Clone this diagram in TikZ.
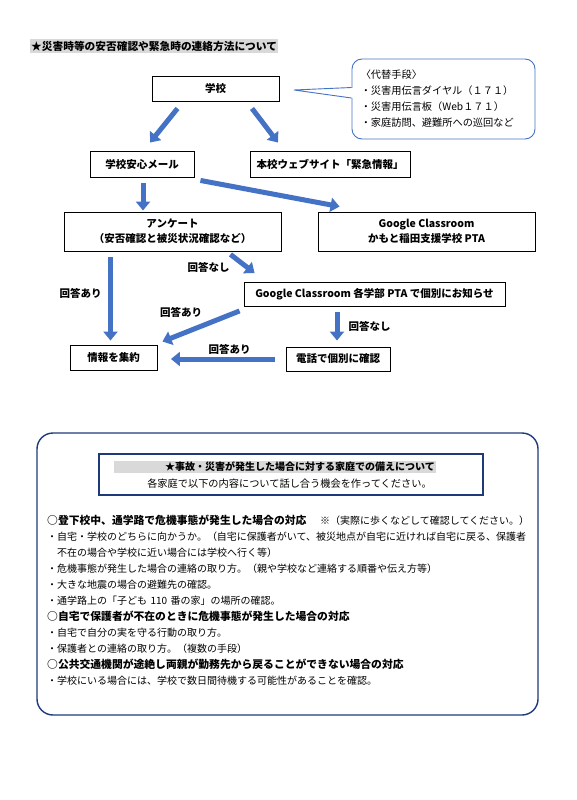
\documentclass[tikz,border=0pt]{standalone}
\usepackage{fontspec}
\setmainfont{Noto Sans CJK JP}
\usetikzlibrary{arrows.meta,positioning,calc}
\definecolor{arrowblue}{HTML}{4472C4}
\definecolor{framenavy}{HTML}{1F3A7A}
\definecolor{markgray}{HTML}{D9D9D9}
\newcommand{\itemhead}[1]{{\fontsize{10.8}{16}\selectfont\bfseries #1}}

\begin{document}
\begin{tikzpicture}[x=1pt,y=-1pt,
  flowbox/.style={draw=black, line width=0.9pt, inner sep=0pt, align=center, font=\fontsize{10.5}{15}\selectfont\bfseries},
  bluearrow/.style={arrowblue, line width=5pt, -{Triangle[width=14pt,length=9pt]}},
  answer/.style={inner sep=0pt, font=\fontsize{10.5}{12}\selectfont\bfseries}]
\useasboundingbox (0,0) rectangle (576,800);

% Title
\node[fill=markgray, anchor=west, inner xsep=1pt, inner ysep=1.5pt, font=\fontsize{10.7}{12}\selectfont\bfseries] (title) at (30,46) {★災害時等の安否確認や緊急時の連絡方法について};

% Flow boxes
\node[flowbox, minimum width=127pt, minimum height=25pt] (school) at (215.5,88.5) {学校};
\node[flowbox, minimum width=104pt, minimum height=26pt] (mail) at (142,164) {学校安心メール};
\node[flowbox, minimum width=160pt, minimum height=26pt] (web) at (330,164) {本校ウェブサイト「緊急情報」};
\node[flowbox, minimum width=217pt, minimum height=39pt] (enquete) at (172.5,231.5) {アンケート\\（安否確認と被災状況確認など）};
\node[flowbox, minimum width=217pt, minimum height=39pt] (gc) at (426.5,231.5) {Google Classroom\\かもと稲田支援学校 PTA};
\node[flowbox, minimum width=261pt, minimum height=24pt] (gcdept) at (374.5,294) {Google Classroom 各学部 PTA で個別にお知らせ};
\node[flowbox, minimum width=87pt, minimum height=25pt] (info) at (113.5,357.5) {情報を集約};
\node[flowbox, minimum width=104pt, minimum height=24pt] (phone) at (338,359) {電話で個別に確認};

% Callout (alternatives)
\node[draw=arrowblue, line width=0.9pt, rounded corners=10pt, minimum width=183pt, minimum height=80pt] (alt) at (443.5,99) {};
\node[anchor=west, align=left, inner sep=0pt, font=\fontsize{10.2}{16}\selectfont] (alttext) at ([xshift=9pt]alt.west) {〈代替手段〉\\・災害用伝言ダイヤル（１７１）\\・災害用伝言板（Web１７１）\\・家庭訪問、避難所への巡回など};
\coordinate (alttip) at (294,90);
\fill[white] ([xshift=-1pt,yshift=11pt]alt.west) rectangle ([xshift=1pt,yshift=1.5pt]alt.west);
\draw[arrowblue, line width=0.9pt, line join=miter] ([yshift=11.5pt]alt.west) -- (alttip) -- ([yshift=1pt]alt.west);

% Arrows
\draw[bluearrow] ([xshift=-38pt,yshift=-7pt]school.south) -- ([xshift=8pt,yshift=8pt]mail.north);
\draw[bluearrow] ([xshift=36.5pt,yshift=-7pt]school.south) -- ([xshift=-52pt,yshift=8pt]web.north);
\draw[bluearrow] ([xshift=1pt,yshift=-6pt]mail.south) -- ([xshift=-29.5pt,yshift=1pt]enquete.north);
\draw[bluearrow] ([xshift=6pt,yshift=-3pt]mail.south east) -- ([xshift=22pt,yshift=5pt]gc.north west);
\draw[bluearrow] ([xshift=58pt,yshift=-3pt]enquete.south) -- ([xshift=11pt,yshift=8.5pt]gcdept.north west);
\draw[bluearrow] ([xshift=-62pt,yshift=-6pt]enquete.south) -- ([xshift=-3pt,yshift=4pt]info.north);
\draw[bluearrow] ([xshift=-4pt,yshift=-4.5pt]gcdept.south west) -- ([xshift=5pt,yshift=3pt]info.north east);
\draw[bluearrow] ([xshift=-37.5pt,yshift=-6pt]gcdept.south) -- ([xshift=-1pt,yshift=6pt]phone.north);
\draw[bluearrow] ([xshift=-10.5pt]phone.west) -- ([xshift=13.5pt]info.east |- phone.west);

% Answer labels
\node[answer] (nonea) at (208.5,267.5) {回答なし};
\node[answer] (yesa) at (80.5,293) {回答あり};
\node[answer] (yesb) at (181,312.5) {回答あり};
\node[answer] (noneb) at (369.5,326) {回答なし};
\node[answer] (yesc) at (229.5,349) {回答あり};

% Home preparation frame
\node[draw=framenavy, line width=1.4pt, rounded corners=16pt, minimum width=501pt, minimum height=282pt] (prep) at (287.5,574) {};
\node[draw=framenavy, line width=1.1pt, minimum width=384pt, minimum height=41pt] (prephead) at (291,474.5) {};
\node[fill=markgray, anchor=east, inner xsep=1pt, inner ysep=1pt, text width=320pt, align=right, font=\fontsize{10}{12}\selectfont\bfseries] (preptitle) at (436,467) {★事故・災害が発生した場合に対する家庭での備えについて};
\node[inner sep=0pt, font=\fontsize{10.2}{12}\selectfont] (prepnote) at (289.5,483.5) {各家庭で以下の内容について話し合う機会を作ってください。};

% Items
\node[anchor=north west, inner sep=0pt, text width=482pt, align=left, font=\fontsize{10}{16}\selectfont] (items) at (47,515) {%
\itemhead{○登下校中、通学路で危機事態が発生した場合の対応}\hfill ※（実際に歩くなどして確認してください。）\\
・自宅・学校のどちらに向かうか。（自宅に保護者がいて、被災地点が自宅に近ければ自宅に戻る、保護者\\
　不在の場合や学校に近い場合には学校へ行く等）\\
・危機事態が発生した場合の連絡の取り方。（親や学校など連絡する順番や伝え方等）\\
・大きな地震の場合の避難先の確認。\\
・通学路上の「子ども 110 番の家」の場所の確認。\\
\itemhead{○自宅で保護者が不在のときに危機事態が発生した場合の対応}\\
・自宅で自分の実を守る行動の取り方。\\
・保護者との連絡の取り方。（複数の手段）\\
\itemhead{○公共交通機関が途絶し両親が勤務先から戻ることができない場合の対応}\\
・学校にいる場合には、学校で数日間待機する可能性があることを確認。};
\end{tikzpicture}
\end{document}
